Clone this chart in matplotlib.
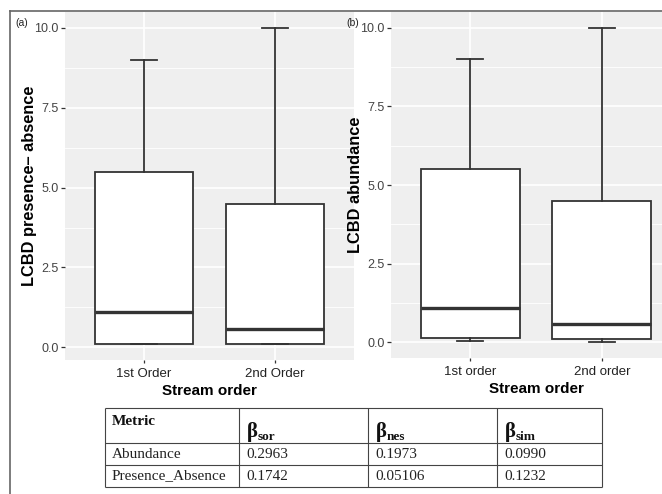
import matplotlib as mpl
import matplotlib.pyplot as plt
from matplotlib.lines import Line2D
from matplotlib.ticker import FormatStrFormatter
from matplotlib.transforms import offset_copy

# Canvas size in pixels (dpi 100)
W, H = 662, 494

# LCBD presence-absence by stream order (panel a)
pa_groups = ["1st Order", "2nd Order"]
pa_min = [0.10, 0.10]
pa_q1 = [0.12, 0.12]
pa_med = [1.10, 0.58]
pa_q3 = [5.50, 4.50]
pa_max = [9.00, 10.00]

# LCBD abundance by stream order (panel b)
ab_groups = ["1st order", "2nd order"]
ab_min = [0.03, 0.00]
ab_q1 = [0.12, 0.10]
ab_med = [1.08, 0.57]
ab_q3 = [5.50, 4.50]
ab_max = [9.00, 10.00]

# Beta diversity partition table
metrics = ["Abundance", "Presence_Absence"]
beta_subs = ["sor", "nes", "sim"]
beta_sor = ["0.2963", "0.1742"]
beta_nes = ["0.1973", "0.05106"]
beta_sim = ["0.0990", "0.1232"]

PANEL_BG = "#EFEFEF"
LINE = "#333333"
TICK_TXT = "#444444"
SANS = "Liberation Sans"
SERIF = "Liberation Serif"

mpl.rcParams.update({
    "font.family": SANS,
    "xtick.direction": "out",
    "ytick.direction": "out",
})


def px(x0, y0, x1, y1):
    """Pixel box (top-left origin) -> figure-fraction rect."""
    return [x0 / W, 1 - y1 / H, (x1 - x0) / W, (y1 - y0) / H]


fig = plt.figure(figsize=(W / 100, H / 100), dpi=100)
fig.patch.set_facecolor("white")


def panel(rect, groups, mins, q1s, meds, q3s, maxs, ylabel, tag, tag_x):
    ax = fig.add_axes(rect)
    ax.set_facecolor(PANEL_BG)
    stats = [
        dict(label=g, whislo=lo, q1=a, med=m, q3=b, whishi=hi, fliers=[])
        for g, lo, a, m, b, hi in zip(groups, mins, q1s, meds, q3s, maxs)
    ]
    ax.bxp(
        stats, positions=[1, 2], widths=0.75, capwidths=0.2,
        patch_artist=True, showfliers=False,
        boxprops=dict(facecolor="white", edgecolor=LINE, linewidth=1.3),
        medianprops=dict(color=LINE, linewidth=2.4, solid_capstyle="butt"),
        whiskerprops=dict(color=LINE, linewidth=1.3),
        capprops=dict(color=LINE, linewidth=1.3),
    )
    lo, hi = min(mins), max(maxs)
    pad = 0.05 * (hi - lo)
    ax.set_ylim(lo - pad, hi + pad)
    ax.set_xlim(0.4, 2.6)

    ax.set_yticks([0, 2.5, 5, 7.5, 10])
    ax.set_yticks([1.25, 3.75, 6.25, 8.75], minor=True)
    ax.yaxis.set_major_formatter(FormatStrFormatter("%.1f"))
    ax.set_xticks([1, 2], groups)
    ax.grid(which="major", color="white", linewidth=1.2)
    ax.grid(which="minor", axis="y", color="white", linewidth=0.6)
    ax.set_axisbelow(True)
    for s in ax.spines.values():
        s.set_visible(False)
    ax.tick_params(axis="y", which="major", length=3, width=0.9,
                   color=LINE, pad=1.5, labelsize=9, labelcolor=TICK_TXT)
    ax.tick_params(axis="x", which="major", length=2.5, width=0.9,
                   color=LINE, pad=3, labelsize=9.5, labelcolor="#222222")
    ax.tick_params(which="minor", length=0)

    ax.set_ylabel(ylabel, fontsize=11.8, fontweight="bold", color="black")
    ax.yaxis.set_label_coords(-0.097, 0.5)
    ax.set_xlabel("Stream order", fontsize=11, fontweight="bold",
                  color="black", va="top")
    ax.xaxis.set_label_coords(0.5, -0.068)

    fig.text(tag_x / W, 1 - 23 / H, tag, fontsize=7.5, va="center",
             ha="left", color="#222222")
    return ax


panel(px(65, 12, 354, 360), pa_groups, pa_min, pa_q1, pa_med, pa_q3,
      pa_max, "LCBD presence\u2013 absence", "(a)", 15)
panel(px(391, 12, 681, 358), ab_groups, ab_min, ab_q1, ab_med, ab_q3,
      ab_max, "LCBD abundance", "(b)", 346)

# Outer frame around the figure panels
frame_kw = dict(color="#666666", linewidth=1.2, transform=fig.transFigure)
fig.add_artist(Line2D([10 / W, 10 / W], [0, 1 - 11 / H], **frame_kw))
fig.add_artist(Line2D([10 / W, 1], [1 - 11 / H, 1 - 11 / H], **frame_kw))

# Table drawn on its own axes, pixel units inside the table
col_edges = [0, 134, 263, 392, 497]
row_edges = [0, 35, 57, 79]
tab = fig.add_axes(px(105, 408, 602, 487))
tab.set_xlim(0, col_edges[-1])
tab.set_ylim(row_edges[-1], 0)
tab.axis("off")
tab.hlines(row_edges, 0, col_edges[-1], color="#444444", linewidth=0.8,
           clip_on=False)
tab.vlines(col_edges, 0, row_edges[-1], color="#444444", linewidth=0.8,
           clip_on=False)

tab.text(col_edges[0] + 7, 13, "Metric", family=SERIF, fontweight="bold",
         fontsize=11, va="center", ha="left", color="#111111")
for j, sub in enumerate(beta_subs):
    x = col_edges[j + 1] + 8
    tab.text(x, 29, "\u03b2", family=SERIF, fontweight="bold", fontsize=15,
             va="baseline", ha="left", color="#111111")
    sub_tf = offset_copy(tab.transData, fig=fig, x=7.8, y=-2.0, units="points")
    tab.text(x, 29, sub, family=SERIF, fontweight="bold", fontsize=9.5,
             va="baseline", ha="left", color="#111111", transform=sub_tf)

columns = [metrics, beta_sor, beta_nes, beta_sim]
for j, col in enumerate(columns):
    for i, val in enumerate(col):
        y = (row_edges[i + 1] + row_edges[i + 2]) / 2
        tab.text(col_edges[j] + 7, y, val, family=SERIF, fontsize=11,
                 va="center", ha="left", color="#222222")

fig.savefig("out.png", dpi=100)
